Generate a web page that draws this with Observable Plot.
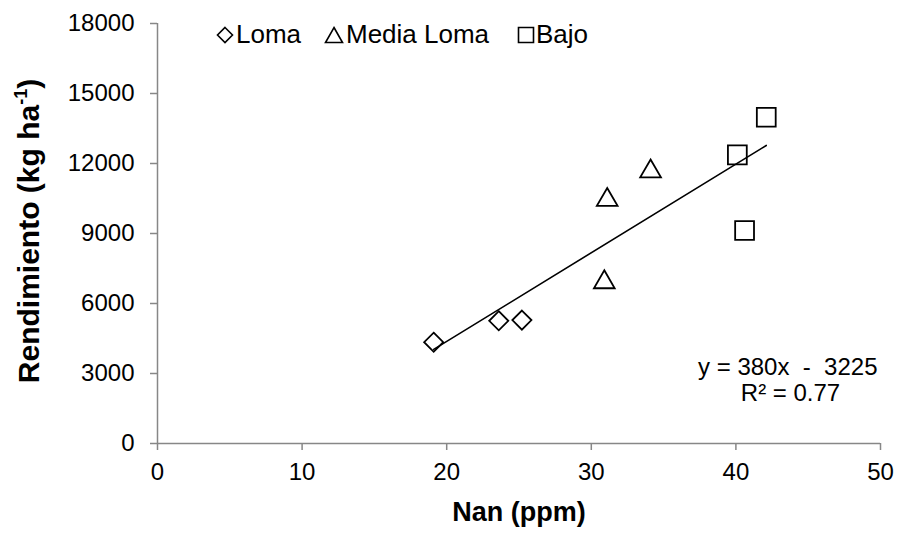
<!DOCTYPE html>
<html>
<head>
<meta charset="utf-8">
<script src="https://cdn.jsdelivr.net/npm/d3@7"></script>
<script src="https://cdn.jsdelivr.net/npm/@observablehq/plot@0.6"></script>
<style>
  html, body { margin: 0; padding: 0; background: #fff; }
  #wrap { position: relative; width: 900px; height: 554px; font-family: "Liberation Sans", Arial, sans-serif; }
</style>
</head>
<body>
<div id="wrap"></div>
<script>
// ---- data ----
const seriesNames = ["Loma", "Media Loma", "Bajo"];
const lomaX = [19.1, 23.6, 25.2];
const lomaY = [4340, 5260, 5290];
const mediaX = [30.9, 31.1, 34.1];
const mediaY = [6910, 10440, 11660];
const bajoX = [40.1, 40.6, 42.1];
const bajoY = [12370, 9130, 13980];
const xTicks = [0, 10, 20, 30, 40, 50];
const yTicks = [0, 3000, 6000, 9000, 12000, 15000, 18000];
const slope = 380;
const intercept = -3225;
const eqText = "y = 380x  -  3225";
const r2Text = "R² = 0.77";
const xTitle = "Nan (ppm)";
const yTitleMain = "Rendimiento (kg ha";
const yTitleSup = "-1";
const yTitleEnd = ")";

const toRows = (xs, ys, s) => xs.map((x, i) => ({x, y: ys[i], serie: s}));
const loma = toRows(lomaX, lomaY, seriesNames[0]);
const media = toRows(mediaX, mediaY, seriesNames[1]);
const bajo = toRows(bajoX, bajoY, seriesNames[2]);
const allX = [...lomaX, ...mediaX, ...bajoX];
const fitLine = [d3.min(allX), d3.max(allX)].map(x => ({x, y: slope * x + intercept}));

const axisGrey = "#878787";
const ml = 157, mr = 20, mt = 23, mb = 111;
const fontFam = "'Liberation Sans', Arial, sans-serif";

const chart = Plot.plot({
  width: 900,
  height: 554,
  marginLeft: ml,
  marginRight: mr,
  marginTop: mt,
  marginBottom: mb,
  style: {fontFamily: fontFam, fontSize: "24px", color: "#000", background: "#fff"},
  x: {domain: [0, 50]},
  y: {domain: [0, 18000]},
  marks: [
    Plot.axisX({ticks: xTicks, tickSize: 7, tickPadding: 12, stroke: axisGrey, strokeWidth: 1.5, fill: "#000", fontSize: 24, label: null}),
    Plot.axisY({ticks: yTicks, tickSize: 7, tickPadding: 16, stroke: axisGrey, strokeWidth: 1.5, fill: "#000", fontSize: 24, label: null, tickFormat: d => String(d)}),
    Plot.ruleX([0], {stroke: axisGrey, strokeWidth: 1.5}),
    Plot.ruleY([0], {stroke: axisGrey, strokeWidth: 1.5}),
    Plot.line(fitLine, {x: "x", y: "y", stroke: "#000", strokeWidth: 1.6}),
    Plot.dot(loma, {x: "x", y: "y", symbol: "diamond2", r: 8.6, stroke: "#000", fill: "none", strokeWidth: 1.8}),
    Plot.dot(media, {x: "x", y: "y", symbol: "triangle2", r: 9.9, stroke: "#000", fill: "none", strokeWidth: 1.8}),
    Plot.dot(bajo, {x: "x", y: "y", symbol: "square2", r: 12, stroke: "#000", fill: "none", strokeWidth: 1.8}),
    Plot.text([eqText], {frameAnchor: "bottom-right", textAnchor: "end", lineAnchor: "middle", dx: -3, dy: -76, fontSize: 24, fill: "#000"}),
    Plot.text([r2Text], {frameAnchor: "bottom-right", textAnchor: "middle", lineAnchor: "middle", dx: -90, dy: -50, fontSize: 24, fill: "#000"}),
    Plot.text([xTitle], {frameAnchor: "bottom", textAnchor: "middle", lineAnchor: "middle", dy: 69, fontSize: 27, fontWeight: "bold", fill: "#000"})
  ]
});

document.getElementById("wrap").appendChild(chart);
const svg = d3.select(chart);

// y axis title with superscript
const yt = svg.append("text")
  .attr("transform", `translate(39,${(mt + 554 - mb) / 2 - 2}) rotate(-90)`)
  .attr("text-anchor", "middle")
  .attr("font-size", 30)
  .attr("font-weight", "bold")
  .attr("fill", "#000")
  .attr("font-family", fontFam);
yt.append("tspan").text(yTitleMain);
yt.append("tspan").attr("font-size", 18).attr("dy", -12).text(yTitleSup);
yt.append("tspan").attr("dy", 12).text(yTitleEnd);

// legend (inside plot area, top-left)
const legendLayout = [
  {name: seriesNames[0], sx: 225, tx: 236, shape: "M0,-7.5L7.5,0L0,7.5L-7.5,0Z"},
  {name: seriesNames[1], sx: 334, tx: 346, shape: "M0,-7.5L8.5,7.5L-8.5,7.5Z"},
  {name: seriesNames[2], sx: 526, tx: 536, shape: "M-7.5,-7.5H7.5V7.5H-7.5Z"}
];
const lg = svg.append("g").attr("font-family", fontFam).attr("font-size", 26).attr("text-anchor", "start");
legendLayout.forEach(d => {
  lg.append("path").attr("d", d.shape).attr("transform", `translate(${d.sx},35)`)
    .attr("fill", "none").attr("stroke", "#000").attr("stroke-width", 1.6);
  lg.append("text").attr("x", d.tx).attr("y", 43).attr("fill", "#000").attr("text-anchor", "start").text(d.name);
});
</script>
</body>
</html>
